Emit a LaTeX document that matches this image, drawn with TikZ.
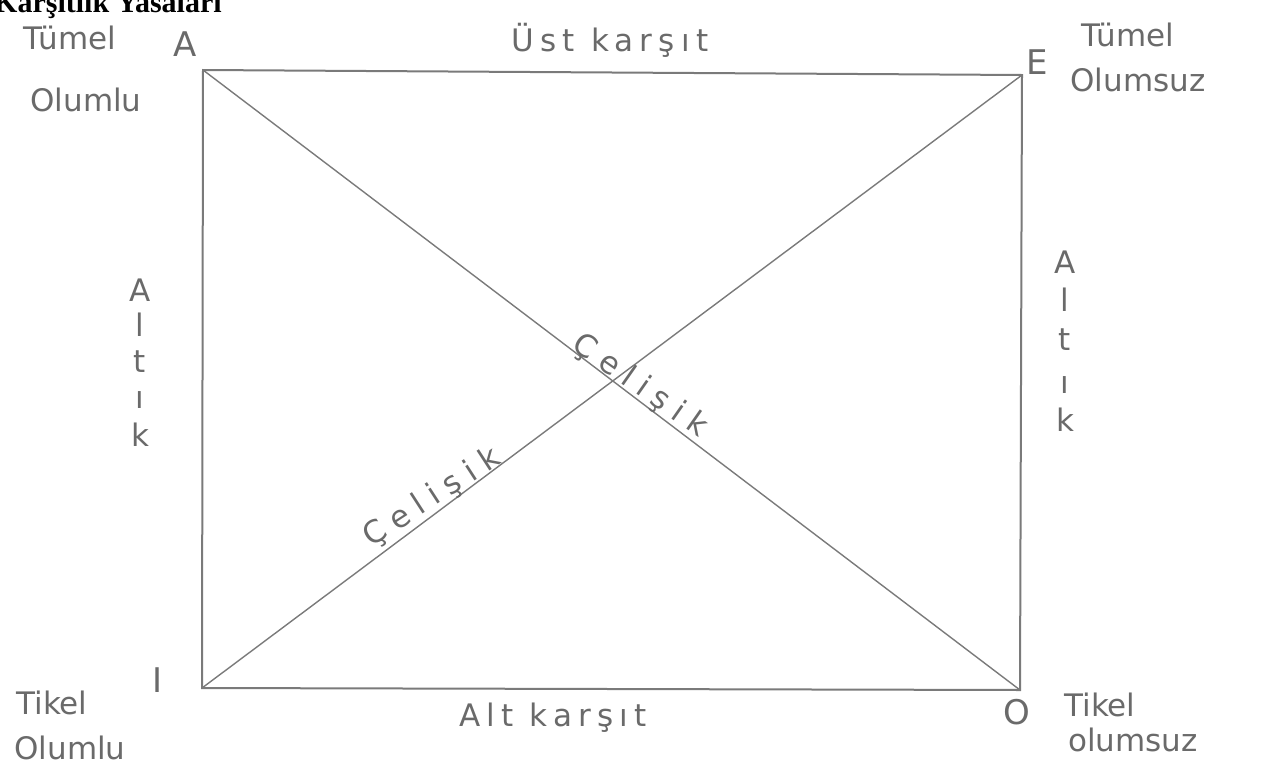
\documentclass[tikz,border=0pt]{standalone}
\usepackage{fontspec}
\setmainfont{DejaVu Sans}
\newfontfamily\titlefont{Liberation Serif}
\newfontfamily\spacedfont[LetterSpace=20]{DejaVu Sans}
\newfontfamily\widefont[LetterSpace=30]{DejaVu Sans}
\definecolor{pencil}{HTML}{7A7A7A}
\definecolor{ink}{HTML}{6A6A6A}
\begin{document}
\begin{tikzpicture}[x=1pt,y=-1pt,
  edge/.style={draw=pencil,line width=2pt,line cap=round},
  diag/.style={draw=pencil,line width=1.4pt,line cap=round},
  lbl/.style={text=ink,font=\fontsize{31}{34}\selectfont,inner sep=0pt},
  side/.style={text=ink,font=\spacedfont\fontsize{31}{34}\selectfont,inner sep=0pt},
  cross/.style={text=ink,font=\widefont\fontsize{31}{34}\selectfont,inner sep=0pt},
  corner/.style={text=ink,font=\fontsize{34}{36}\selectfont,inner sep=0pt},
  vletter/.style={text=ink,font=\fontsize{31}{34}\selectfont,inner sep=0pt}]
\useasboundingbox (0,0) rectangle (1262,769);
% title (cut at top)
\node[anchor=base west,inner sep=0pt,font=\titlefont\bfseries\fontsize{30}{32}\selectfont] (title) at (-6,12) {Karşıtlık Yasaları};
% corners
\coordinate (A) at (203,70);
\coordinate (E) at (1022,75);
\coordinate (I) at (202,688);
\coordinate (O) at (1020,690);
\draw[edge] (A) -- (E) -- (O) -- (I) -- cycle;
\draw[diag] (A) -- (O);
\draw[diag] (I) -- (E);
% corner letters
\node[corner] (lA) at (185,44) {A};
\node[corner] (lE) at (1037,62) {E};
\node[corner] (lI) at (158,680) {I};
\node[corner] (lO) at (1017,712) {O};
% edge labels
\node[side] (ust) at (610,40) {Üst karşıt};
\node[side] (alt) at (553,718) {Alt karşıt};
% corner descriptions
\node[lbl] (tA1) at (70,38) {Tümel};
\node[lbl] (tA2) at (86,100) {Olumlu};
\node[lbl] (tE1) at (1128,35) {Tümel};
\node[lbl] (tE2) at (1138,80) {Olumsuz};
\node[lbl] (tI1) at (52,703) {Tikel};
\node[lbl] (tI2) at (70,748) {Olumlu};
\node[lbl] (tO1) at (1100,705) {Tikel};
\node[lbl] (tO2) at (1133,740) {olumsuz};
% vertical Altık left
\node[vletter] (l1) at (140,290) {A};
\node[vletter] (l2) at (140,325) {l};
\node[vletter] (l3) at (140,362) {t};
\node[vletter] (l4) at (140,400) {ı};
\node[vletter] (l5) at (140,435) {k};
% vertical Altık right
\node[vletter] (r1) at (1065,262) {A};
\node[vletter] (r2) at (1065,300) {l};
\node[vletter] (r3) at (1065,340) {t};
\node[vletter] (r4) at (1065,385) {ı};
\node[vletter] (r5) at (1065,420) {k};
% diagonal labels
\node[cross,rotate=-35] (c1) at (640,386) {Çelişik};
\node[cross,rotate=33] (c2) at (432,498) {Çelişik};
\end{tikzpicture}
\end{document}
